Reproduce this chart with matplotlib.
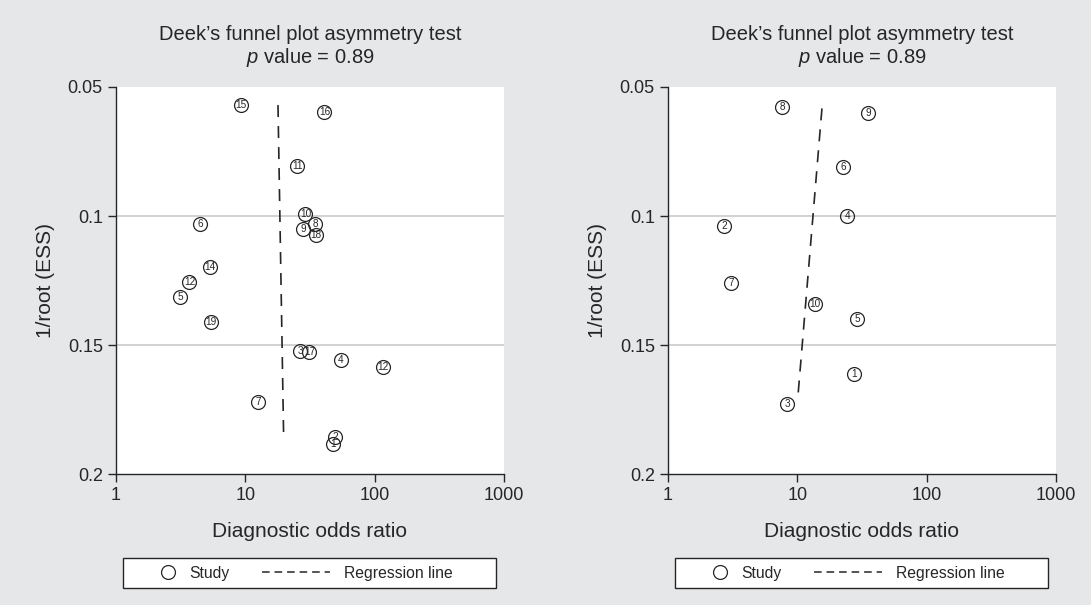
import matplotlib
matplotlib.use("Agg")
import matplotlib.pyplot as plt
from matplotlib.lines import Line2D
from matplotlib.patches import Rectangle
from matplotlib.legend_handler import HandlerLine2D

plt.rcParams['font.family'] = ['Liberation Sans', 'DejaVu Sans']
plt.rcParams['mathtext.fontset'] = 'custom'
plt.rcParams['mathtext.it'] = 'Liberation Sans:italic'
plt.rcParams['mathtext.rm'] = 'Liberation Sans'

BG = '#e6e7e9'
INK = '#262626'
GRID = '#c6c6c6'

# left panel: study id, diagnostic odds ratio, 1/root(ESS)
left_ids = ['1', '2', '3', '4', '5', '6', '7', '8', '9', '10',
            '11', '12', '12', '14', '15', '16', '17', '18', '19']
left_dor = [47.8, 49.2, 26.7, 54.8, 3.13, 4.48, 12.5, 34.9, 28.0, 29.2,
            25.2, 115.3, 3.70, 5.29, 9.26, 40.9, 31.3, 35.3, 5.42]
left_ess = [0.1885, 0.1855, 0.1523, 0.1559, 0.1313, 0.1032, 0.1722, 0.1031, 0.1049, 0.0993,
            0.0805, 0.1586, 0.1257, 0.1197, 0.0570, 0.0598, 0.1526, 0.1074, 0.1412]
left_reg_dor = [17.9, 19.8]
left_reg_ess = [0.0570, 0.1860]

# right panel
right_ids = ['1', '2', '3', '4', '5', '6', '7', '8', '9', '10']
right_dor = [27.3, 2.72, 8.32, 24.3, 29.0, 22.5, 3.08, 7.61, 35.3, 13.6]
right_ess = [0.1612, 0.1038, 0.1729, 0.0999, 0.1400, 0.0809, 0.1261, 0.0576, 0.0600, 0.1341]
right_reg_dor = [15.5, 10.1]
right_reg_ess = [0.0583, 0.1700]

p_value = 0.89
x_ticks = [1, 10, 100, 1000]
y_ticks = [0.05, 0.1, 0.15, 0.2]
y_ticklabels = ['0.05', '0.1', '0.15', '0.2']
grid_levels = [0.1, 0.15]


class RightMarker(HandlerLine2D):
    # single marker drawn near the right end of the handle, next to its text
    def get_xdata(self, legend, xdescent, ydescent, width, height, fontsize):
        xm = -xdescent + width - 0.45 * fontsize
        return [xm - 1, xm + 1], [xm]


def funnel(ax, ids, dor, ess, reg_dor, reg_ess):
    ax.set_facecolor('white')
    ax.set_xscale('log')
    ax.set_xlim(1, 1000)
    ax.set_ylim(0.2, 0.05)
    for g in grid_levels:
        ax.axhline(g, color=GRID, lw=1.1, zorder=0)

    for s, x, y in zip(ids, dor, ess):
        ax.plot(x, y, 'o', ms=10, mfc='none', mec=INK, mew=0.9, zorder=3)
        ax.text(x, y, s, ha='center', va='center', fontsize=7.2, color=INK, zorder=4)

    ax.plot(reg_dor, reg_ess, color=INK, lw=1.2, dashes=(7.2, 5.4), zorder=2)

    ax.set_xticks(x_ticks)
    ax.set_xticklabels([str(t) for t in x_ticks])
    ax.xaxis.set_minor_locator(matplotlib.ticker.NullLocator())
    ax.set_yticks(y_ticks)
    ax.set_yticklabels(y_ticklabels)
    ax.tick_params(length=5.5, width=1, color=INK, labelcolor=INK, labelsize=13, pad=4)
    for side in ['top', 'right']:
        ax.spines[side].set_visible(False)
    for side in ['left', 'bottom']:
        ax.spines[side].set_color(INK)
        ax.spines[side].set_linewidth(1)

    ax.set_title('Deek\u2019s funnel plot asymmetry test\n$\\mathit{p}$ value = %.2f' % p_value,
                 fontsize=14.5, color=INK, pad=17, linespacing=1.15)
    ax.set_xlabel('Diagnostic odds ratio', fontsize=15, color=INK, labelpad=13)
    ax.set_ylabel('1/root (ESS)', fontsize=15, color=INK, labelpad=9)

    # legend strip below the axis
    ax.add_patch(Rectangle((0.018, -0.2946), 0.961, 0.0775, transform=ax.transAxes,
                           facecolor='white', edgecolor=INK, lw=1, clip_on=False, zorder=5))
    h_study = Line2D([], [], ls='none', marker='o', ms=10, mfc='none', mec=INK, mew=0.9)
    h_reg = Line2D([], [], color=INK, lw=1.1, dashes=(5.0, 3.2))
    leg = ax.legend([h_study, h_reg], ['Study', 'Regression line'], ncol=2,
                    loc='center', bbox_to_anchor=(0.4227, -0.256), frameon=False,
                    fontsize=11.3, handlelength=4.33, handletextpad=0.9,
                    columnspacing=2.1, borderaxespad=0, numpoints=1,
                    handler_map={h_study: RightMarker()})
    leg.set_zorder(6)
    for t in leg.get_texts():
        t.set_color(INK)


fig = plt.figure(figsize=(10.91, 6.05), dpi=100, facecolor=BG)
ax1 = fig.add_axes([0.1063, 0.2165, 0.3556, 0.6397])
ax2 = fig.add_axes([0.6123, 0.2165, 0.3556, 0.6397])
funnel(ax1, left_ids, left_dor, left_ess, left_reg_dor, left_reg_ess)
funnel(ax2, right_ids, right_dor, right_ess, right_reg_dor, right_reg_ess)

fig.savefig('out.png', dpi=100, facecolor=BG)
